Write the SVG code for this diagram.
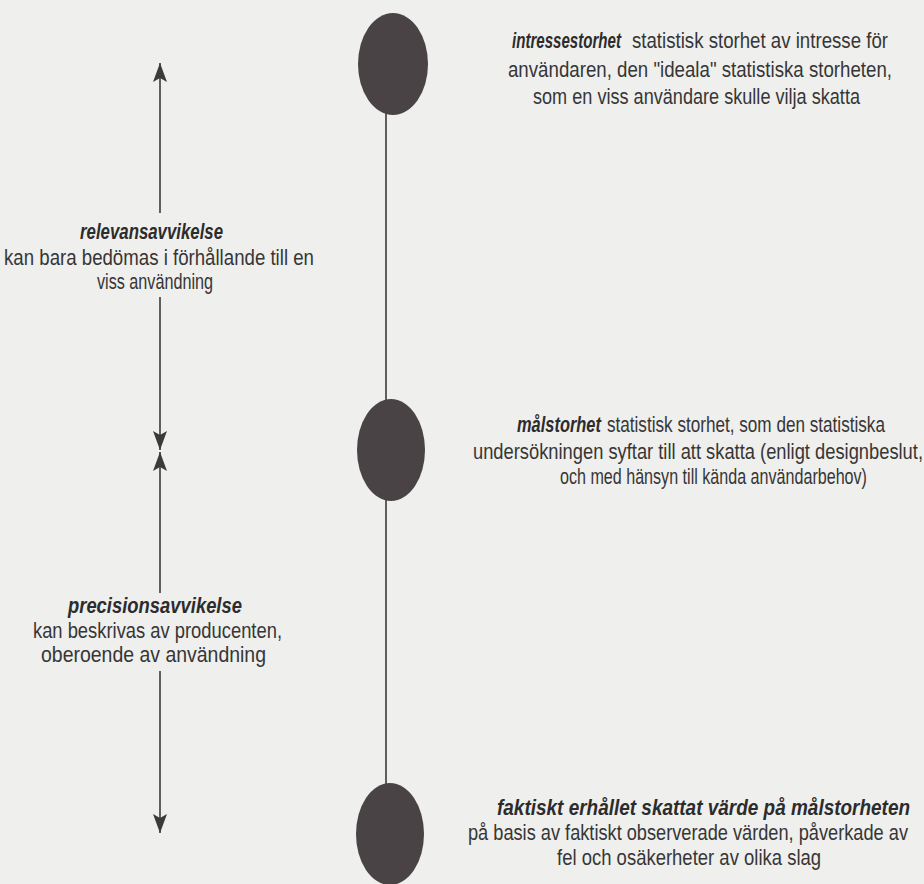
<svg xmlns="http://www.w3.org/2000/svg" width="924" height="884" viewBox="0 0 924 884">
  <style>
    .bg { fill: #efefed; }
    .dot { fill: #4a4345; }
    .axis { stroke: #3a3a3a; stroke-width: 1.6; fill: none; }
    .span { stroke: #3a3a3a; stroke-width: 1.6; fill: none; }
    .lbl { font-family: "Liberation Sans", Arial, sans-serif; font-size: 22px; fill: #363636; }
    .term { font-weight: bold; font-style: italic; fill: #2c2c2c; }
  </style>
  <defs>
    <marker id="head" viewBox="-20 -8 21 16" refX="0" refY="0" markerWidth="21" markerHeight="16" markerUnits="userSpaceOnUse" orient="auto">
      <path d="M0,0 L-19,-7 L-15,0 L-19,7 Z" fill="#3a3a3a"/>
    </marker>
  </defs>

  <rect class="bg" x="0" y="0" width="924" height="884"/>

  <!-- vertical axis joining the three quantities -->
  <g id="connectors">
    <line class="axis" x1="386" y1="64" x2="386" y2="834"/>
    <!-- spans on the left, measured between quantity levels -->
    <line class="span" x1="160" y1="213" x2="160" y2="63" marker-end="url(#head)"/>
    <line class="span" x1="160" y1="297" x2="160" y2="450" marker-end="url(#head)"/>
    <line class="span" x1="160" y1="593" x2="160" y2="452" marker-end="url(#head)"/>
    <line class="span" x1="160" y1="671" x2="160" y2="833" marker-end="url(#head)"/>
  </g>

  <!-- labels use a condensed sans: glyphs are narrowed by a horizontal scale of 0.82 -->
  <g id="intressestorhet">
    <ellipse class="dot" cx="393" cy="64" rx="35" ry="51"/>
    <g transform="scale(0.82 1)">
      <text class="lbl term" x="624.4" y="48" textLength="132.9" lengthAdjust="spacingAndGlyphs">intressestorhet</text>
      <text class="lbl" x="770.7" y="48" textLength="312.2" lengthAdjust="spacingAndGlyphs">statistisk storhet av intresse för</text>
      <text class="lbl" x="619.5" y="77" textLength="468.3" lengthAdjust="spacingAndGlyphs">användaren, den "ideala" statistiska storheten,</text>
      <text class="lbl" x="650.0" y="104" textLength="398.8" lengthAdjust="spacingAndGlyphs">som en viss användare skulle vilja skatta</text>
    </g>
  </g>

  <g id="malstorhet">
    <ellipse class="dot" cx="391" cy="450" rx="34" ry="51"/>
    <g transform="scale(0.82 1)">
      <text class="lbl term" x="630.5" y="432" textLength="102.4" lengthAdjust="spacingAndGlyphs">målstorhet</text>
      <text class="lbl" x="740.2" y="432" textLength="339.0" lengthAdjust="spacingAndGlyphs">statistisk storhet, som den statistiska</text>
      <text class="lbl" x="576.8" y="459" textLength="548.8" lengthAdjust="spacingAndGlyphs">undersökningen syftar till att skatta (enligt designbeslut,</text>
      <text class="lbl" x="682.9" y="484" textLength="374.4" lengthAdjust="spacingAndGlyphs">och med hänsyn till kända användarbehov)</text>
    </g>
  </g>

  <g id="skattat-varde">
    <ellipse class="dot" cx="390" cy="834" rx="34" ry="51"/>
    <g transform="scale(0.82 1)">
      <text class="lbl term" x="606.1" y="815" textLength="503.7" lengthAdjust="spacingAndGlyphs">faktiskt erhållet skattat värde på målstorheten</text>
      <text class="lbl" x="570.7" y="840" textLength="536.6" lengthAdjust="spacingAndGlyphs">på basis av faktiskt observerade värden, påverkade av</text>
      <text class="lbl" x="679.3" y="865" textLength="322.0" lengthAdjust="spacingAndGlyphs">fel och osäkerheter av olika slag</text>
    </g>
  </g>

  <g id="relevansavvikelse">
    <g transform="scale(0.82 1)">
      <text class="lbl term" x="97.6" y="239" textLength="174.4" lengthAdjust="spacingAndGlyphs">relevansavvikelse</text>
      <text class="lbl" x="4.9" y="265" textLength="378.0" lengthAdjust="spacingAndGlyphs">kan bara bedömas i förhållande till en</text>
      <text class="lbl" x="118.3" y="289" textLength="141.5" lengthAdjust="spacingAndGlyphs">viss användning</text>
    </g>
  </g>

  <g id="precisionsavvikelse">
    <g transform="scale(0.82 1)">
      <text class="lbl term" x="82.9" y="613" textLength="212.2" lengthAdjust="spacingAndGlyphs">precisionsavvikelse</text>
      <text class="lbl" x="40.2" y="638" textLength="303.7" lengthAdjust="spacingAndGlyphs">kan beskrivas av producenten,</text>
      <text class="lbl" x="50.0" y="662" textLength="274.4" lengthAdjust="spacingAndGlyphs">oberoende av användning</text>
    </g>
  </g>
</svg>
